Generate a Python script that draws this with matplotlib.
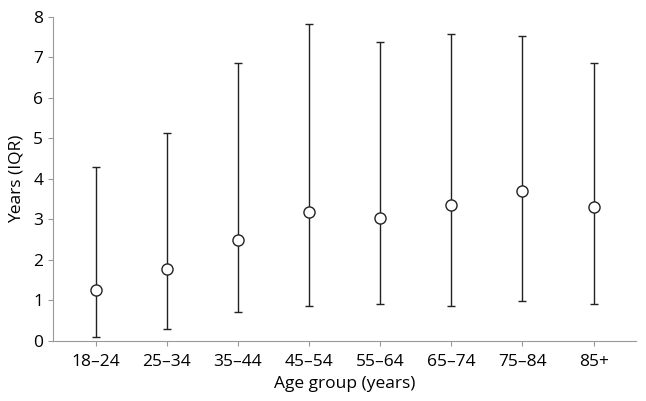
import matplotlib.pyplot as plt

groups = ['18–24', '25–34', '35–44', '45–54', '55–64', '65–74', '75–84', '85+']
median = [1.25, 1.78, 2.5, 3.18, 3.03, 3.35, 3.7, 3.3]
q1 = [0.1, 0.3, 0.7, 0.85, 0.9, 0.85, 0.98, 0.92]
q3 = [4.3, 5.13, 6.87, 7.82, 7.38, 7.57, 7.53, 6.87]

plt.rcParams['font.family'] = ['Open Sans', 'DejaVu Sans']
fig, ax = plt.subplots(figsize=(6.46, 4.01), dpi=100)
fig.subplots_adjust(left=0.082, right=0.985, top=0.958, bottom=0.15)

x = range(len(groups))
err = [[m - l for m, l in zip(median, q1)], [h - m for m, h in zip(median, q3)]]
ax.errorbar(x, median, yerr=err, fmt='o', color='#222222', ecolor='#222222',
            elinewidth=1, capsize=3, markersize=8, markerfacecolor='white',
            markeredgewidth=1)

ax.set_xticks(list(x))
ax.set_xticklabels(groups)
ax.set_xlim(-0.6, len(groups) - 0.4)
ax.set_ylim(0, 8)
ax.set_yticks(range(9))
ax.set_xlabel('Age group (years)', fontsize=12.5, labelpad=4)
ax.set_ylabel('Years (IQR)', fontsize=12.5, labelpad=6)
ax.tick_params(labelsize=12.5, color='#999999')
ax.tick_params(axis='x', pad=6)
for s in ['top', 'right']:
    ax.spines[s].set_visible(False)
for s in ['left', 'bottom']:
    ax.spines[s].set_color('#999999')

plt.savefig('out.png')
